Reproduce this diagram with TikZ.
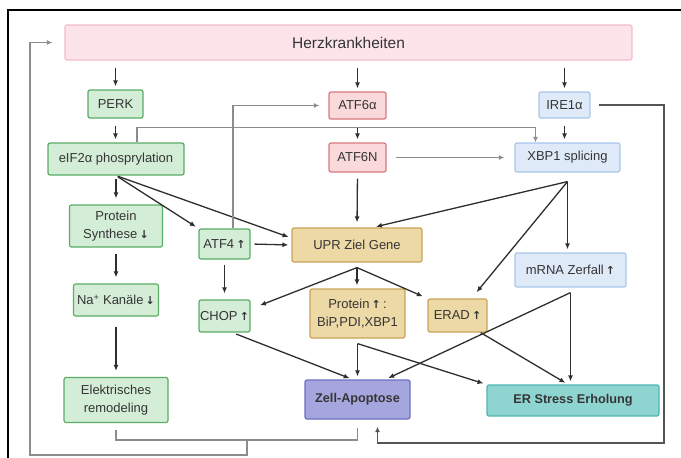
\documentclass[tikz,border=0pt]{standalone}
\usepackage{fontspec}
\setmainfont{Liberation Sans}
\newfontfamily\arrfont{DejaVu Sans}
\usetikzlibrary{arrows.meta}
\definecolor{txt}{HTML}{353535}
\definecolor{herzfill}{HTML}{FCE4EA}
\definecolor{herzdraw}{HTML}{F3BDCA}
\definecolor{grnfill}{HTML}{D4EDD6}
\definecolor{grndraw}{HTML}{5AAC67}
\definecolor{redfill}{HTML}{F9D9D9}
\definecolor{reddraw}{HTML}{D9787C}
\definecolor{bluefill}{HTML}{DFEAF8}
\definecolor{bluedraw}{HTML}{A9C6EA}
\definecolor{tanfill}{HTML}{EDD9A6}
\definecolor{tandraw}{HTML}{C9A35A}
\definecolor{apofill}{HTML}{A5A6DE}
\definecolor{apodraw}{HTML}{6E6FC4}
\definecolor{ersfill}{HTML}{8ED4D1}
\definecolor{ersdraw}{HTML}{4DB6B3}
\definecolor{linecol}{HTML}{2E2E2E}
\definecolor{gcol}{HTML}{8C8C8C}
\definecolor{dgcol}{HTML}{555555}
\newcommand{\upa}{{\arrfont\bfseries\fontsize{11}{12}\selectfont ↑}}
\newcommand{\dna}{{\arrfont\bfseries\fontsize{11}{12}\selectfont ↓}}

\begin{document}
\begin{tikzpicture}[x=1pt, y=-1pt,
	box/.style={draw, rounded corners=2pt, line width=1.2pt, align=center, text=txt, inner sep=1pt, font=\fontsize{13}{18}\selectfont},
	pinkbox/.style={box, fill=herzfill, draw=herzdraw, font=\fontsize{15.5}{18}\selectfont},
	grnbox/.style={box, fill=grnfill, draw=grndraw},
	redbox/.style={box, fill=redfill, draw=reddraw},
	bluebox/.style={box, fill=bluefill, draw=bluedraw},
	tanbox/.style={box, fill=tanfill, draw=tandraw},
	arr/.style={-{Latex[length=6pt,width=5pt]}, line width=1.3pt, draw=linecol, shorten >=3pt},
	garr/.style={-{Latex[length=5.5pt,width=5pt]}, line width=1.1pt, draw=gcol},
	gline/.style={line width=1.1pt, draw=gcol}]
	\useasboundingbox (0,0) rectangle (681,458);
	\draw[line width=1.6pt] (8,458) -- (8,10) -- (681,10);

	\node[pinkbox, minimum width=567pt, minimum height=35pt] (herz) at (348.5,42.5) {Herzkrankheiten};
	\node[grnbox, minimum width=55pt, minimum height=28pt] (perk) at (115.5,104) {PERK};
	\node[grnbox, minimum width=136pt, minimum height=32pt] (eif) at (116,159) {eIF2α phosprylation};
	\node[grnbox, minimum width=93pt, minimum height=42pt] (protsyn) at (116,226) {Protein\\Synthese\,\dna};
	\node[grnbox, minimum width=85pt, minimum height=32pt] (natr) at (116,300) {Na\textsuperscript{+} Kanäle\,\dna};
	\node[grnbox, minimum width=104pt, minimum height=45pt] (elek) at (116,400) {Elektrisches\\remodeling};
	\node[grnbox, minimum width=51pt, minimum height=30pt] (atf4) at (224.5,244) {ATF4\,\upa};
	\node[grnbox, minimum width=51pt, minimum height=32pt] (chop) at (224.5,316) {CHOP\,\upa};
	\node[redbox, minimum width=57pt, minimum height=27pt] (atf6a) at (357.5,105.5) {ATF6α};
	\node[redbox, minimum width=57pt, minimum height=29pt] (atf6n) at (357.5,157.5) {ATF6N};
	\node[tanbox, minimum width=130pt, minimum height=34pt] (upr) at (357,245) {UPR Ziel Gene};
	\node[tanbox, minimum width=95pt, minimum height=49pt] (prot) at (357.5,313.5) {Protein\,\upa\,:\\BiP,PDI,XBP1};
	\node[tanbox, minimum width=59pt, minimum height=33pt] (erad) at (457.5,315.5) {ERAD\,\upa};
	\node[bluebox, minimum width=51pt, minimum height=26pt] (ire) at (564.5,105) {IRE1α};
	\node[bluebox, minimum width=105pt, minimum height=29pt] (xbp) at (567.5,157.5) {XBP1 splicing};
	\node[bluebox, minimum width=111pt, minimum height=34pt] (mrna) at (570.5,270) {mRNA Zerfall\,\upa};
	\node[box, fill=apofill, draw=apodraw, minimum width=105pt, minimum height=39pt, font=\fontsize{12.7}{15}\selectfont\bfseries] (apo) at (357.5,399.5) {Zell-Apoptose};
	\node[box, fill=ersfill, draw=ersdraw, minimum width=172pt, minimum height=31pt, font=\fontsize{12.7}{15}\selectfont\bfseries] (ers) at (573,400.5) {ER Stress Erholung};

	\coordinate (xsplit) at ([yshift=-9pt]xbp.south);
	\coordinate (usplit) at ([yshift=-5pt]upr.south);
	\coordinate (psplit) at ([yshift=-5pt]prot.south);
	\coordinate (msplit) at ([yshift=-5pt]mrna.south);
	\coordinate (loopr) at (664,443);
	\coordinate (fbjoin) at (247,440);
	\coordinate (fbcorner) at (30,455);

	\draw[arr, shorten <=7pt] (herz.south -| perk.center) -- (perk.north);
	\draw[arr, shorten <=7pt] (herz.south -| atf6a.center) -- (atf6a.north);
	\draw[arr, shorten <=7pt] (herz.south -| ire.center) -- (ire.north);
	\draw[arr, shorten <=7pt] (perk.south) -- (perk.south |- eif.north);
	\draw[arr, shorten <=7pt] (atf6a.south) -- (atf6n.north);
	\draw[arr, shorten <=7pt] (ire.south) -- (ire.south |- xbp.north);
	\draw[arr, shorten <=3pt, shorten >=6pt] (eif.south) -- (protsyn.north);
	\draw[arr, shorten <=2pt] (eif.south) -- (atf4.north west);
	\draw[arr, shorten <=2pt] (eif.south) -- ([yshift=7pt]upr.west);
	\draw[arr, shorten <=4pt] (atf4.east) -- (upr.west);
	\draw[arr, shorten <=5pt, shorten >=6pt] (atf4.south) -- (chop.north);
	\draw[arr, shorten <=6pt, shorten >=6pt] (protsyn.south) -- (natr.north);
	\draw[arr, shorten <=10pt, shorten >=6pt] (natr.south) -- (elek.north);
	\draw[arr, shorten <=6pt, shorten >=5pt] (atf6n.south) -- (upr.north);
	\draw[arr] (xsplit) -- ([xshift=16pt]upr.north);
	\draw[arr, shorten >=8pt] (xsplit) -- ([xshift=14pt]erad.north);
	\draw[arr] (xsplit) -- (xsplit |- mrna.north);
	\draw[arr, shorten >=10pt] (usplit) -- ([yshift=7pt]chop.east);
	\draw[arr] (usplit) -- (usplit |- prot.north);
	\draw[arr, shorten >=5pt] (usplit) -- (erad.north west);
	\draw[arr, shorten <=4pt] ([xshift=8pt]chop.south) -- ([xshift=-5pt]apo.north);
	\draw[arr] (psplit) -- (psplit |- apo.north);
	\draw[arr] (psplit) -- (ers.north west);
	\draw[arr] ([xshift=-7pt]erad.south east) -- ([xshift=-5pt]ers.north);
	\draw[arr] (msplit) -- (msplit |- ers.north);
	\draw[arr] (msplit) -- ([xshift=28pt]apo.north);

	\draw[garr] ([xshift=21pt]eif.north) -- ++(0,-15) -| ([xshift=-32pt]xbp.north);
	\draw[garr, shorten >=9pt] ([xshift=8.5pt]atf4.north) |- (atf6a.west);
	\draw[garr, shorten <=9pt, shorten >=10pt] (atf6n.east) -- (xbp.west);
	\draw[garr, draw=dgcol, shorten <=8pt, shorten >=7pt] (ire.east) -| (loopr) -| ([xshift=20pt]apo.south);
	\draw[gline, shorten <=7pt] (elek.south) |- (fbjoin);
	\draw[gline, shorten <=8pt] (apo.south) |- (fbjoin);
	\draw[garr, shorten >=12pt] (fbjoin) -- ++(0,15) -- (fbcorner) |- (herz.west);
\end{tikzpicture}
\end{document}
